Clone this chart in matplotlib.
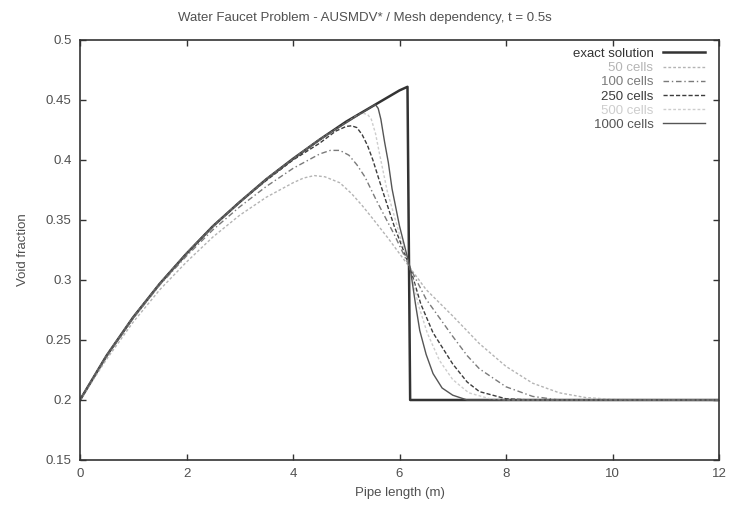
import matplotlib
matplotlib.use('Agg')
import matplotlib.pyplot as plt

plt.rcParams['font.family'] = ['Liberation Sans', 'DejaVu Sans']

# exact solution
x_exact = [0, 0.5, 1, 1.5, 2, 2.5, 3, 3.5, 4, 4.5, 5, 5.5, 6, 6.15, 6.2, 12]
y_exact = [0.2, 0.237, 0.269, 0.297, 0.322, 0.345, 0.365, 0.384, 0.401, 0.417,
           0.432, 0.445, 0.458, 0.461, 0.2, 0.2]

x_50 = [0, 0.5, 1, 1.5, 2, 2.5, 3, 3.5, 4, 4.2, 4.4, 4.6, 4.88, 5.1, 5.3, 5.5,
        5.8, 6.2, 6.5, 7, 7.5, 8, 8.5, 9, 9.5, 10, 10.5, 12]
y_50 = [0.2, 0.234, 0.265, 0.292, 0.315, 0.336, 0.354, 0.369, 0.381, 0.385,
        0.387, 0.386, 0.381, 0.372, 0.362, 0.351, 0.334, 0.310, 0.292, 0.270,
        0.247, 0.228, 0.214, 0.206, 0.202, 0.2005, 0.2, 0.2]

x_100 = [0, 0.5, 1, 1.5, 2, 2.5, 3, 3.5, 4, 4.5, 4.7, 4.88, 5.05, 5.2, 5.35,
         5.57, 5.9, 6.2, 6.5, 7, 7.27, 7.5, 8, 8.5, 9, 12]
y_100 = [0.2, 0.236, 0.268, 0.296, 0.320, 0.342, 0.361, 0.378, 0.393, 0.405,
         0.408, 0.408, 0.404, 0.396, 0.386, 0.366, 0.338, 0.310, 0.284, 0.253,
         0.237, 0.226, 0.211, 0.203, 0.2, 0.2]

x_250 = [0, 0.5, 1, 1.5, 2, 2.5, 3, 3.5, 4, 4.5, 4.8, 5.0, 5.1, 5.2, 5.3, 5.4,
         5.5, 5.67, 5.9, 6.2, 6.4, 6.63, 7, 7.27, 7.5, 8, 8.5, 12]
y_250 = [0.2, 0.237, 0.269, 0.297, 0.322, 0.345, 0.365, 0.383, 0.400, 0.414,
         0.424, 0.428, 0.4285, 0.427, 0.421, 0.412, 0.400, 0.376, 0.345, 0.310,
         0.280, 0.256, 0.230, 0.215, 0.207, 0.201, 0.2, 0.2]

x_500 = [0, 0.5, 1, 1.5, 2, 2.5, 3, 3.5, 4, 4.5, 5, 5.2, 5.3, 5.4, 5.47, 5.55,
         5.63, 5.77, 6.0, 6.2, 6.35, 6.52, 6.75, 7, 7.3, 7.7, 8, 12]
y_500 = [0.2, 0.237, 0.269, 0.297, 0.322, 0.345, 0.365, 0.384, 0.401, 0.417,
         0.431, 0.437, 0.439, 0.438, 0.434, 0.422, 0.404, 0.374, 0.338, 0.310,
         0.280, 0.256, 0.233, 0.217, 0.206, 0.201, 0.2, 0.2]

x_1000 = [0, 0.5, 1, 1.5, 2, 2.5, 3, 3.5, 4, 4.5, 5, 5.5, 5.55, 5.6, 5.65,
          5.72, 5.79, 5.86, 6.0, 6.2, 6.3, 6.38, 6.5, 6.63, 6.8, 7, 7.27, 12]
y_1000 = [0.2, 0.237, 0.269, 0.297, 0.322, 0.345, 0.365, 0.384, 0.401, 0.417,
          0.431, 0.445, 0.446, 0.443, 0.434, 0.415, 0.398, 0.376, 0.345, 0.310,
          0.280, 0.258, 0.238, 0.222, 0.210, 0.204, 0.2, 0.2]

x_ticks = [0, 2, 4, 6, 8, 10, 12]
y_ticks = [0.15, 0.2, 0.25, 0.3, 0.35, 0.4, 0.45, 0.5]
y_labels = ['0.15', '0.2', '0.25', '0.3', '0.35', '0.4', '0.45', '0.5']

fig = plt.figure(figsize=(7.3, 5.2), dpi=100)
ax = fig.add_axes([80 / 730, 1 - 460 / 520, 639 / 730, 420 / 520])

text_col = '#505050'
fs = 9.5

ax.plot(x_exact, y_exact, color='#333333', lw=1.8, label='exact solution')
ax.plot(x_50, y_50, color='#b4b4b4', lw=1.0, ls=(0, (2, 1.5)), label='50 cells')
ax.plot(x_100, y_100, color='#7a7a7a', lw=1.0, ls=(0, (4, 2, 1, 2)), label='100 cells')
ax.plot(x_250, y_250, color='#3c3c3c', lw=1.0, ls=(0, (3, 1.5)), label='250 cells')
ax.plot(x_500, y_500, color='#cdcdcd', lw=1.0, ls=(0, (2, 1.5)), label='500 cells')
ax.plot(x_1000, y_1000, color='#555555', lw=1.0, label='1000 cells')

ax.set_xlim(0, 12)
ax.set_ylim(0.15, 0.5)
ax.set_xticks(x_ticks)
ax.set_xticklabels([str(t) for t in x_ticks])
ax.set_yticks(y_ticks)
ax.set_yticklabels(y_labels)
ax.tick_params(direction='in', length=4, width=1, top=True, right=True,
               labelsize=fs, labelcolor=text_col, color='#333333', pad=6)
for s in ax.spines.values():
    s.set_color('#333333')
    s.set_linewidth(1.2)

ax.set_xlabel('Pipe length (m)', fontsize=fs, color=text_col, labelpad=5)
ax.set_ylabel('Void fraction', fontsize=fs, color=text_col, labelpad=12)
fig.text(0.5, 1 - 18 / 520, 'Water Faucet Problem - AUSMDV* / Mesh dependency, t = 0.5s',
         ha='center', va='center', fontsize=fs, color=text_col)

# gnuplot style key: labels right-aligned, sample line on the right
leg = ax.legend(loc='upper right', bbox_to_anchor=(0.982, 0.988), frameon=False,
                markerfirst=False, fontsize=fs, handlelength=3.2, handletextpad=0.7,
                labelspacing=0.15, borderaxespad=0, borderpad=0.2)
leg._legend_handle_box.get_children()[0].align = 'right'
for t, l in zip(leg.get_texts(), leg.get_lines()):
    t.set_color(l.get_color())

fig.savefig('out.png', dpi=100)
